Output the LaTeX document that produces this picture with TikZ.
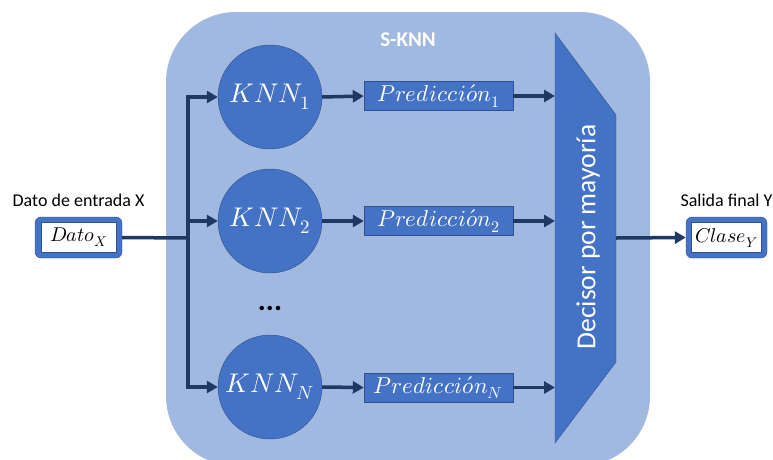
\documentclass[tikz,border=0pt]{standalone}
\usepackage{fontspec}
\setmainfont{Carlito}
\usepackage{unicode-math}
\setmathfont{Latin Modern Math}
\usetikzlibrary{arrows.meta,positioning}

\definecolor{panelblue}{RGB}{161,185,224}
\definecolor{nodeblue}{RGB}{68,114,196}
\definecolor{edgeblue}{RGB}{47,82,143}
\definecolor{navy}{RGB}{31,56,100}

\tikzset{
	knn/.style={circle, fill=nodeblue, draw=edgeblue, thin, minimum size=104pt, inner sep=0pt,
		text=white, font=\fontsize{27}{30}\selectfont},
	pred/.style={rectangle, fill=nodeblue, draw=edgeblue, thin, minimum width=149pt, minimum height=29pt,
		inner sep=0pt, text=white, font=\fontsize{23}{25}\selectfont},
	iobox/.style={rectangle, rounded corners=6pt, fill=nodeblue, draw=edgeblue, thin,
		minimum width=#1, minimum height=41pt, inner sep=0pt},
	ioinner/.style={rectangle, fill=white, draw=edgeblue, thin, minimum width=#1, minimum height=30pt,
		inner sep=0pt, font=\fontsize{20}{22}\selectfont},
	flow/.style={-{Triangle[length=11pt,width=12pt]}, line width=3.5pt, draw=navy},
	bus/.style={line width=3.5pt, draw=navy, line cap=rect},
	caption/.style={font=\fontsize{18}{21}\selectfont}
}

\begin{document}
\begin{tikzpicture}[x=1pt,y=-1pt]
	\useasboundingbox (0,0) rectangle (773,459);
	\clip (0,0) rectangle (773,459);
	% fondo S-KNN
	\fill[panelblue, rounded corners=70pt] (166,12) rectangle (650,466);
	\node[text=white, font=\bfseries\fontsize{21}{24}\selectfont] (titulo) at (408,40) {S-KNN};

	% entrada y salida
	\node[iobox=87pt] (dato) at (78.5,237.5) {};
	\node[ioinner=75pt] (datoin) at (dato.center) {$Dato_X$};
	\node[caption, above=7pt of dato] (datolbl) {Dato de entrada X};
	\node[iobox=81pt] (clase) at (726.5,237.5) {};
	\node[ioinner=70pt] (clasein) at (clase.center) {$Clase_Y$};
	\node[caption, above=7pt of clase] (claselbl) {Salida final Y};

	% clasificadores
	\node[knn] (knn1) at (270,97) {$KNN_1$};
	\node[knn] (knn2) at (270,221) {$KNN_2$};
	\node[knn] (knnN) at (270,387) {$KNN_N$};
	\node[font=\bfseries\fontsize{30}{30}\selectfont] (dots) at (270,308) {...};
	\node[pred] (pred1) at (438.5,96) {$Predicci\acute{o}n_1$};
	\node[pred] (pred2) at (438.5,221) {$Predicci\acute{o}n_2$};
	\node[pred] (predN) at (438.5,387.5) {$Predicci\acute{o}n_N$};

	% decisor
	\fill[nodeblue, draw=edgeblue, thin] (555,33) -- (616,115) -- (616,362) -- (555,443) -- cycle;
	\coordinate (decin) at (555,238);
	\coordinate (decout) at (616,238);
	\node[rotate=90, text=white, font=\fontsize{27.5}{30}\selectfont] (decisor) at (588,237) {Decisor por mayoría};

	% conexiones
	\coordinate (split) at (188,238);
	\draw[bus] (knn1.west -| split) -- (knnN.west -| split);
	\draw[bus, line cap=butt] (dato.east) -- (split);
	\foreach \k in {1,2,N} {
		\draw[flow] (knn\k.west -| split) -- (knn\k.west);
		\draw[flow] (knn\k.east) -- (pred\k.west);
		\draw[flow] (pred\k.east) -- (pred\k.east -| decin);
	}
	\draw[flow] (decout) -- (clase.west);
\end{tikzpicture}
\end{document}
